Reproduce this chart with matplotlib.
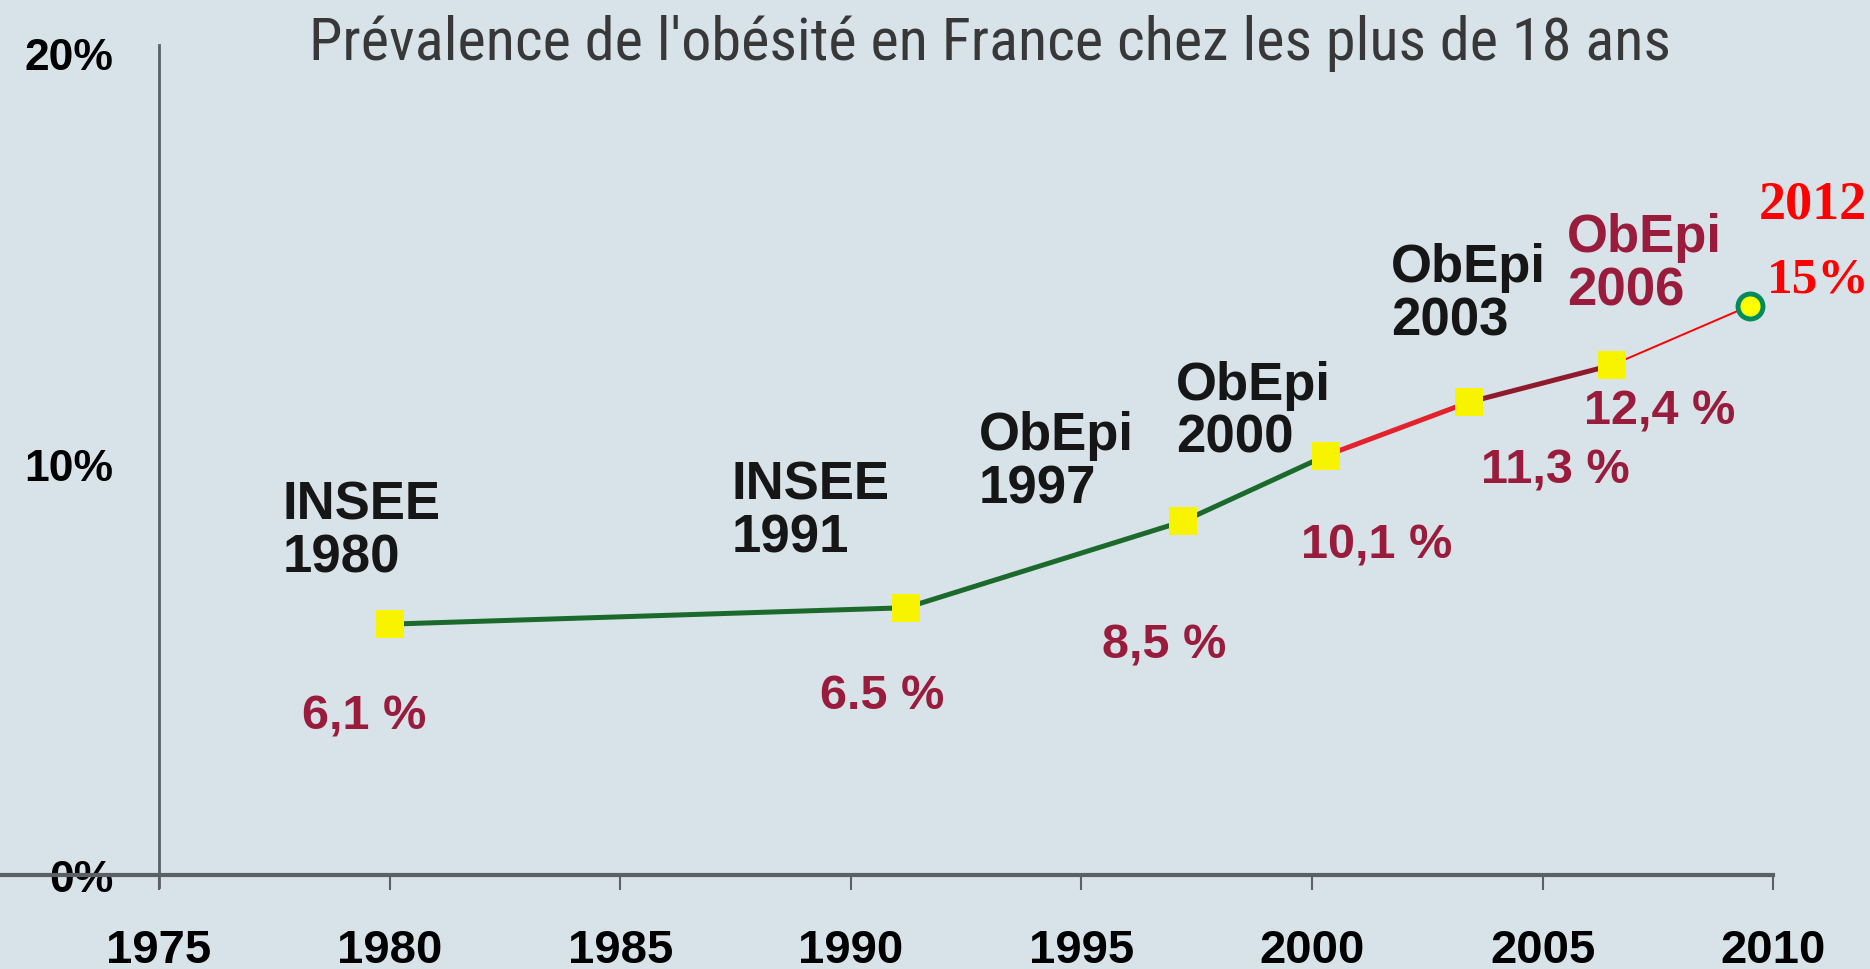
#!/usr/bin/python
# -*- coding: utf-8 -*-

"""Prevalence de l'obesite en France - courbe ObEpi / INSEE"""

import matplotlib
matplotlib.use('Agg')
import matplotlib.pyplot as plt
from matplotlib import font_manager

######################################################################

# donnees
annees = [1980, 1991.2, 1997.2, 2000.3, 2003.4, 2006.5]
valeurs = [6.1, 6.5, 8.6, 10.2, 11.5, 12.4]
sources = ['INSEE\n1980', 'INSEE\n1991', 'ObEpi\n1997', 'ObEpi\n2000',
           'ObEpi\n2003', 'ObEpi\n2006']
etiquettes = ['6,1 %', '6.5 %', '8,5 %', '10,1 %', '11,3 %', '12,4 %']

annee_2012 = 2009.5
valeur_2012 = 13.85
texte_2012 = '2012'
texte_15 = '15%'

x_ticks = [1975, 1980, 1985, 1990, 1995, 2000, 2005, 2010]
y_ticks = [0, 10, 20]
y_labels = ['0%', '10%', '20%']

titre = "Prévalence de l'obésité en France chez les plus de 18 ans"

######################################################################

fond = '#d8e3e9'
vert = '#1b6a2c'
rouge = '#e2232b'
rouge_fonce = '#8e1a2c'
bordeaux = '#9a1c3c'
jaune = '#f8f400'
gris_axe = '#5a6066'

noms = set(f.name for f in font_manager.fontManager.ttflist)
police_titre = 'Liberation Sans'
for nom in ['Liberation Sans Narrow', 'Arial Narrow', 'Roboto Condensed',
            'Open Sans Condensed', 'DejaVu Sans Condensed']:
    if nom in noms:
        police_titre = nom
        break
police = 'Liberation Sans'
police_serif = 'Liberation Serif'

# decalages des textes (en points) par rapport aux marqueurs
decal_sources = [(-77, 104), (-126, 107), (-147, 80), (-108, 69), (-56, 115), (-32, 110)]
decal_etiq = [(-63, -66), (-62, -63), (-58, -89), (-18, -64), (9, -49), (-20, -33)]

fig = plt.figure(figsize=(18.7, 9.7), dpi=100, facecolor=fond)
ax = fig.add_axes([0, 0, 1, 1])
ax.set_facecolor(fond)
ax.set_xlim(1971.55, 2012.10)
ax.set_ylim(-2.29, 21.31)

for cote in ['top', 'right']:
    ax.spines[cote].set_visible(False)
ax.spines['left'].set_position(('data', 1975))
ax.spines['left'].set_bounds(-0.3, 20.2)
ax.spines['left'].set_color(gris_axe)
ax.spines['left'].set_linewidth(2)
ax.spines['bottom'].set_position(('data', 0))
ax.spines['bottom'].set_bounds(1971.55, 2010)
ax.spines['bottom'].set_color(gris_axe)
ax.spines['bottom'].set_linewidth(3)

ax.set_xticks(x_ticks)
ax.set_xticklabels([str(a) for a in x_ticks], fontfamily=police,
                   fontweight='bold', fontsize=34)
ax.tick_params(axis='x', direction='out', length=11, width=1.5,
               color=gris_axe, pad=27)
ax.set_yticks(y_ticks)
ax.set_yticklabels(y_labels, fontfamily=police, fontweight='bold', fontsize=32)
ax.tick_params(axis='y', length=0, pad=33)

# courbe
ax.plot(annees[:4], valeurs[:4], color=vert, lw=3.6, solid_capstyle='round', zorder=3)
ax.plot(annees[3:5], valeurs[3:5], color=rouge, lw=3.6, solid_capstyle='round', zorder=3)
ax.plot(annees[4:], valeurs[4:], color=rouge_fonce, lw=3.6, solid_capstyle='round', zorder=3)
ax.plot([annees[-1], annee_2012], [valeurs[-1], valeur_2012], color='#ff0000',
        lw=1.4, zorder=2, clip_on=False)
ax.plot(annees, valeurs, 's', color=jaune, markersize=20, markeredgewidth=0, zorder=4)
ax.plot([annee_2012], [valeur_2012], 'o', color='#ffff00', markersize=18,
        markeredgecolor='#008a5e', markeredgewidth=3.5, zorder=5, clip_on=False)

# textes
for i in range(len(annees)):
    couleur = bordeaux if i == len(annees) - 1 else '#161616'
    ax.annotate(sources[i], (annees[i], valeurs[i]), xytext=decal_sources[i],
                textcoords='offset points', ha='left', va='top',
                fontfamily=police, fontweight='bold', fontsize=38,
                color=couleur, linespacing=1.08)
    ax.annotate(etiquettes[i], (annees[i], valeurs[i]), xytext=decal_etiq[i],
                textcoords='offset points', ha='left', va='center',
                fontfamily=police, fontweight='bold', fontsize=35, color=bordeaux)

ax.annotate(texte_2012, (annee_2012, valeur_2012), xytext=(6, 73),
            textcoords='offset points', ha='left', va='center',
            fontfamily=police_serif, fontweight='bold', fontsize=39, color='#ff0000')
ax.annotate(texte_15, (annee_2012, valeur_2012), xytext=(12, 19),
            textcoords='offset points', ha='left', va='center',
            fontfamily=police_serif, fontweight='bold', fontsize=37, color='#ff0000')

# titre : taille ajustee a la largeur du titre d'origine (~1360 px)
t = fig.text(0.5295, 0.985, titre, ha='center', va='top', fontfamily=police_titre,
             fontsize=40, color='#383838')
fig.canvas.draw()
largeur = t.get_window_extent().width
t.set_fontsize(40 * 1360.0 / largeur)

plt.savefig('out.png', dpi=100, facecolor=fond)
